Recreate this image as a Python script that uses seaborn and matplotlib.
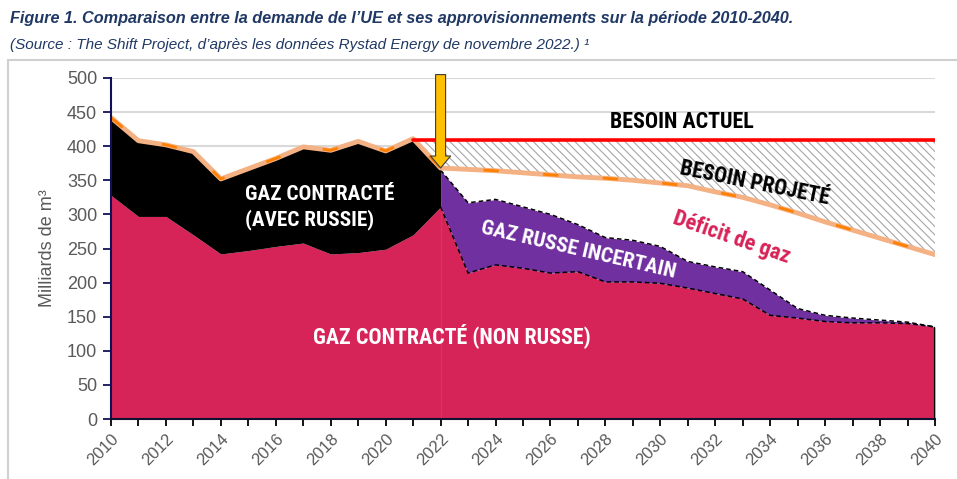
import numpy as np
import matplotlib
matplotlib.use("Agg")
import matplotlib.pyplot as plt
from matplotlib.patches import Rectangle
import seaborn as sns

# ---------------- data ----------------
annees = list(range(2010, 2041))
annees_hist = list(range(2010, 2023))
annees_proj = list(range(2022, 2041))
annees_besoin = list(range(2021, 2041))

# total demand (historical then projected "besoin projeté")
demande = [442, 408, 402, 392, 352, 367, 382, 399, 394, 407, 393, 411, 368,
           366, 364, 361, 358, 355, 353, 350, 346, 342, 333, 325, 314, 302,
           289, 277, 265, 253, 241]
# contracted gas, non-Russian (top of pink area)
non_russe_hist = [328, 297, 297, 270, 242, 247, 253, 258, 242, 244, 249, 270, 311]
non_russe_proj = [311, 214, 226, 221, 214, 216, 201, 201, 199, 192, 184, 176,
                  152, 148, 143, 141, 141, 140, 135]
# contracted gas incl. uncertain Russian gas (top of purple area)
total_proj = [365, 317, 322, 311, 300, 285, 266, 262, 253, 231, 223, 216,
              189, 162, 152, 148, 145, 142, 135]
besoin_actuel = [409] * len(annees_besoin)

y_ticks = list(range(0, 501, 50))
x_tick_labels = [str(a) if a % 2 == 0 else "" for a in annees]

PINK = "#D62358"
PURPLE = "#7030A0"
PEACH = "#F4B183"
ORANGE = "#FF8000"
NAVY = "#1F3864"
GREY = "#595959"

# ---------------- style ----------------
sns.set_theme(style="white")
plt.rcParams["font.family"] = ["Liberation Sans", "DejaVu Sans"]
plt.rcParams["hatch.linewidth"] = 0.8
LABEL_FONT = ["Roboto Condensed", "Liberation Sans Narrow", "Roboto", "DejaVu Sans"]
TITLE_FONT = ["Liberation Sans Narrow", "Liberation Sans", "DejaVu Sans"]

fig = plt.figure(figsize=(9.57, 4.79), dpi=100)
ax = fig.add_axes([111 / 957, 1 - 419 / 479, (935 - 111) / 957, (419 - 78) / 479])

demande_hist = demande[:13]
demande_proj = demande[12:]
demande_besoin = demande[11:]

# areas
ax.fill_between(annees_hist, 0, non_russe_hist, color=PINK, lw=0, zorder=2)
ax.fill_between(annees_proj, 0, non_russe_proj, color=PINK, lw=0, zorder=2)
ax.fill_between(annees_hist, non_russe_hist, demande_hist, color="black", lw=0, zorder=2)
ax.fill_between(annees_proj, non_russe_proj, total_proj, color=PURPLE, lw=0, zorder=2)
ax.fill_between(annees_proj, total_proj, demande_proj, color="white", lw=0, zorder=2)
ax.fill_between(annees_besoin, np.minimum(demande_besoin, besoin_actuel), besoin_actuel,
                facecolor="white", edgecolor="#A6A6A6", hatch="\\\\\\\\", lw=0, zorder=2)

# lines
sns.lineplot(x=annees, y=demande, color=PEACH, lw=3.5, ax=ax, zorder=4)
sns.lineplot(x=annees, y=demande, color=ORANGE, lw=2, ax=ax, zorder=5)
ax.lines[-1].set_dashes([5.5, 16])
sns.lineplot(x=annees_besoin, y=besoin_actuel, color="#FF0000", lw=2.6, ax=ax, zorder=4)
sns.lineplot(x=annees_proj, y=non_russe_proj, color="black", lw=1.1, ax=ax, zorder=3)
ax.lines[-1].set_dashes([3, 2])
sns.lineplot(x=annees_proj, y=total_proj, color="black", lw=1.1, ax=ax, zorder=3)
ax.lines[-1].set_dashes([3, 2])
ax.vlines(2040, 0, non_russe_proj[-1], color="black", lw=1.5, zorder=3)

# arrow at 2022
ax.annotate("", xy=(2022, demande[12]), xytext=(2022, 505),
            arrowprops=dict(arrowstyle="simple,head_length=0.6,head_width=1.0,tail_width=0.5",
                            mutation_scale=14.4, fc="#FFC000", ec="#3A3A3A", lw=0.8,
                            shrinkA=0, shrinkB=0),
            annotation_clip=False, zorder=6)

# axes
ax.set_xlim(2010, 2040)
ax.set_ylim(0, 500)
ax.set_xticks(annees)
ax.set_xticklabels(x_tick_labels, rotation=45, ha="right", va="top",
                   rotation_mode="anchor", color=GREY, fontsize=12)
ax.set_yticks(y_ticks)
ax.set_yticklabels([str(v) for v in y_ticks], color=GREY, fontsize=13)
ax.tick_params(axis="x", direction="out", length=5, width=1.3, color="black", pad=4,
               bottom=True)
ax.tick_params(axis="y", direction="out", length=6, width=1.3, color="#10105A", pad=4,
               left=True)
ax.yaxis.grid(True, color="#D9D9D9", lw=1.5)
ax.xaxis.grid(False)
ax.set_axisbelow(True)
for s in ["top", "right"]:
    ax.spines[s].set_visible(False)
ax.spines["left"].set_color("#10105A")
ax.spines["left"].set_linewidth(1.5)
ax.spines["bottom"].set_color("#101030")
ax.spines["bottom"].set_linewidth(1.5)
ax.spines["left"].set_zorder(6)
ax.spines["bottom"].set_zorder(6)
ax.set_ylabel("Milliards de m\u00b3", color=GREY, fontsize=13, labelpad=8)
ax.set_xlabel("")

# area labels
ax.text(2014.88, 310, "GAZ CONTRACTÉ\n(AVEC RUSSIE)", color="white", fontsize=15.3,
        fontweight="bold", family=LABEL_FONT, ha="left", va="center", linespacing=1.3,
        zorder=7)
ax.text(2022.4, 123, "GAZ CONTRACTÉ (NON RUSSE)", color="white", fontsize=15.8,
        fontweight="bold", family=LABEL_FONT, ha="center", va="center", zorder=7)
ax.text(2030.8, 436, "BESOIN ACTUEL", color="black", fontsize=15.8,
        fontweight="bold", family=LABEL_FONT, ha="center", va="center", zorder=7)
ax.text(2033.45, 346, "BESOIN PROJETÉ", color="black", fontsize=15.5, rotation=-11.5,
        fontweight="bold", family=LABEL_FONT, ha="center", va="center", zorder=7)
ax.text(2032.6, 266, "Déficit de gaz", color=PINK, fontsize=16, rotation=-19,
        fontweight="bold", family=LABEL_FONT, ha="center", va="center", zorder=7)
ax.text(2027.0, 248, "GAZ RUSSE INCERTAIN", color="white", fontsize=15.3, rotation=-13,
        fontweight="bold", family=LABEL_FONT, ha="center", va="center", zorder=7)

# titles
fig.text(10 / 957, 1 - 18 / 479,
         "Figure 1. Comparaison entre la demande de l\u2019UE et ses approvisionnements sur la période 2010-2040.",
         color=NAVY, fontsize=11.7, fontweight="bold", fontstyle="italic",
         family=TITLE_FONT, ha="left", va="center")
fig.text(10 / 957, 1 - 45 / 479,
         "(Source : The Shift Project, d\u2019après les données Rystad Energy de novembre 2022.) \u00b9",
         color=NAVY, fontsize=11, fontstyle="italic",
         family=TITLE_FONT, ha="left", va="center")

fig.add_artist(Rectangle((8 / 957, -0.01), 1.0, 1 - 60 / 479 + 0.01,
                         transform=fig.transFigure, fill=False,
                         edgecolor="#D0D0D0", lw=1.5))

fig.savefig("out.png", dpi=100)
